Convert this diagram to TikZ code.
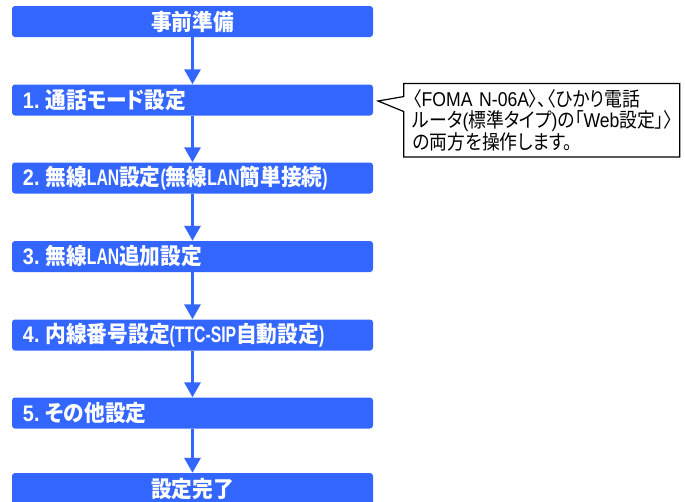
\documentclass[tikz,border=0pt]{standalone}
\usepackage{fontspec}
\setmainfont{Noto Sans CJK JP}[RawFeature=+palt, FakeStretch=0.92]
\newfontfamily\notefont{Noto Sans CJK JP}[RawFeature=+palt, FakeStretch=0.89]
\newfontfamily\latbox{Liberation Sans}[FakeStretch=0.7]
\newfontfamily\latnum{Liberation Sans}[FakeStretch=0.88]
\newfontfamily\latnote{Liberation Sans}[FakeStretch=0.88]
\newcommand\lbox[1]{{\latbox #1}}
\newcommand\lnum[1]{{\latnum #1.}\hspace{6pt}}
\newcommand\lnote[1]{{\latnote #1}}
\usetikzlibrary{arrows.meta,shapes.callouts}
\definecolor{flowblue}{RGB}{51,102,255}

\begin{document}
\begin{tikzpicture}[x=1pt, y=-1pt,
	stepbox/.style={rectangle, fill=flowblue, rounded corners=3pt, minimum width=361pt, minimum height=31pt,
		inner xsep=11pt, text width=339pt, text=white, font=\fontsize{22.5}{24}\selectfont\bfseries},
	flow/.style={draw=flowblue, line width=3pt, -{Triangle[width=16pt,length=15pt]}}]
	\useasboundingbox (0,0) rectangle (685,501);
	
	%% steps
	\node[stepbox, align=center] (pre) at (192.5,21.5) {事前準備};
	\node[stepbox, align=left] (s1) at (192.5,100) {\lnum{1}通話モード設定};
	\node[stepbox, align=left] (s2) at (192.5,178) {\lnum{2}無線\lbox{LAN}設定\lbox{(}無線\lbox{LAN}簡単接続\lbox{)}};
	\node[stepbox, align=left] (s3) at (192.5,256.5) {\lnum{3}無線\lbox{LAN}追加設定};
	\node[stepbox, align=left] (s4) at (192.5,335) {\lnum{4}内線番号設定\lbox{(TTC-SIP}自動設定\lbox{)}};
	\node[stepbox, align=left] (s5) at (192.5,413) {\lnum{5}その他設定};
	\node[stepbox, align=center, minimum height=33pt] (done) at (192.5,489.5) {設定完了};
	
	\draw[flow] (pre) -- (s1);
	\draw[flow] (s1) -- (s2);
	\draw[flow] (s2) -- (s3);
	\draw[flow] (s3) -- (s4);
	\draw[flow] (s4) -- (s5);
	\draw[flow] (s5) -- (done);
	
	%% note
	\coordinate (tip) at (378,101);
	\node[rectangle callout, callout absolute pointer={(tip)}, callout pointer width=15pt, draw, line width=1.2pt,
		fill=white, align=left, text width=258pt, inner xsep=9pt, inner ysep=5pt, minimum height=73.5pt,
		font=\fontsize{20}{21}\notefont] (note) at (541.8,120.3)
		{〈\lnote{FOMA N-06A}〉、〈ひかり電話\\ルータ\lnote{(}標準タイプ\lnote{)}の「\lnote{Web}設定」〉\\の両方を操作します。};
\end{tikzpicture}
\end{document}
